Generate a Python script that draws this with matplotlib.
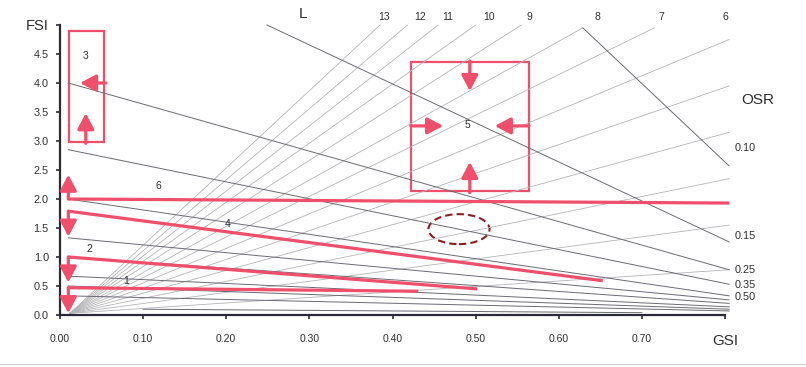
import matplotlib
matplotlib.use("Agg")
import matplotlib.pyplot as plt
from matplotlib.patches import Rectangle, Ellipse
from matplotlib.lines import Line2D

plt.rcParams["font.family"] = ["Liberation Sans", "DejaVu Sans"]

# axis ticks
gsi_ticks = [0.0, 0.1, 0.2, 0.3, 0.4, 0.5, 0.6, 0.7, 0.8]
gsi_tick_labels = ["0.00", "0.10", "0.20", "0.30", "0.40", "0.50", "0.60", "0.70", "GSI"]
fsi_ticks = [0.0, 0.5, 1.0, 1.5, 2.0, 2.5, 3.0, 3.5, 4.0, 4.5, 5.0]
fsi_tick_labels = ["0.0", "0.5", "1.0", "1.5", "2.0", "2.5", "3.0", "3.5", "4.0", "4.5", "FSI"]

# L lines (floors), from the origin to their end point
l_values = [13, 12, 11, 10, 9, 8, 7, 6, 5, 4, 3, 2, 1]
l_end_gsi = [0.385, 0.418, 0.455, 0.500, 0.555, 0.629, 0.715, 0.805, 0.805, 0.805, 0.805, 0.805, 0.805]
l_end_fsi = [5.0, 5.0, 5.0, 5.0, 5.0, 4.95, 4.95, 4.75, 3.95, 3.15, 2.35, 1.55, 0.78]
l_label_gsi = [0.390, 0.433, 0.467, 0.516, 0.565, 0.647, 0.723, 0.800]

# OSR lines
osr_labels = ["0.10", "0.15", "0.25", "0.35", "0.50", "", "", "", "", "", ""]
osr_g0 = [0.629, 0.249, 0.01, 0.01, 0.01, 0.01, 0.01, 0.01, 0.01, 0.01, 0.10]
osr_f0 = [4.95, 5.0, 4.0, 2.85, 2.0, 1.33, 1.0, 0.67, 0.5, 0.33, 0.10]
osr_g1 = [0.805, 0.805, 0.805, 0.805, 0.805, 0.805, 0.805, 0.805, 0.805, 0.805, 0.70]
osr_f1 = [2.57, 1.26, 0.78, 0.53, 0.33, 0.26, 0.20, 0.14, 0.10, 0.07, 0.04]
osr_label_fsi = [2.88, 1.36, 0.78, 0.52, 0.31]

# red lines with the arrow at their start
red_g0 = [0.01, 0.01, 0.01, 0.01]
red_f0 = [2.0, 1.79, 1.0, 0.47]
red_g1 = [0.805, 0.653, 0.502, 0.431]
red_f1 = [1.93, 0.59, 0.45, 0.41]
red_arrow_tip = [2.42, 1.35, 0.56, 0.03]

# red boxes
box_g0 = [0.011, 0.422]
box_g1 = [0.053, 0.564]
box_f0 = [2.98, 2.14]
box_f1 = [4.90, 4.36]

# numbered zones
zone_names = ["1", "2", "3", "4", "5", "6"]
zone_gsi = [0.080, 0.035, 0.031, 0.202, 0.490, 0.118]
zone_fsi = [0.59, 1.14, 4.47, 1.57, 3.28, 2.22]

red = "#F04F6B"
dark = "#2b2b35"
txt = "#2e2e2e"

fig = plt.figure(figsize=(8.06, 3.67), dpi=100)
ax = fig.add_axes([60 / 806, 52 / 367, 665 / 806, 290 / 367])
ax.set_xlim(0, 0.8)
ax.set_ylim(0, 5)

for i in range(len(l_values)):
    ax.plot([0.012, l_end_gsi[i]], [0.03, l_end_fsi[i]], color="#b4b4b8", lw=0.6, clip_on=False)
for i in range(8):
    ax.text(l_label_gsi[i], 5.14, str(l_values[i]), fontsize=7.5, color=txt,
            ha="center", va="center", clip_on=False)
ax.text(0.292, 5.19, "L", fontsize=11, color=txt, ha="center", va="center", clip_on=False)

for i in range(len(osr_g0)):
    ax.plot([osr_g0[i], osr_g1[i]], [osr_f0[i], osr_f1[i]], color="#6a6a72", lw=0.7, clip_on=False)
for i in range(5):
    ax.text(0.812, osr_label_fsi[i], osr_labels[i], fontsize=7.8, color=txt,
            ha="left", va="center", clip_on=False)
ax.text(0.82, 3.71, "OSR", fontsize=11, color=txt, ha="left", va="center", clip_on=False)

arrow_style = "-|>,head_width=0.5,head_length=0.95"

for i in range(len(red_g0)):
    ax.plot([red_g0[i], red_g1[i]], [red_f0[i], red_f1[i]], color=red, lw=2.3,
            solid_capstyle="butt", clip_on=False)
    ax.annotate("", xy=(red_g0[i], red_arrow_tip[i]), xytext=(red_g0[i], red_f0[i]),
                arrowprops=dict(arrowstyle=arrow_style, color=red, lw=2.3,
                                shrinkA=0, shrinkB=0, mutation_scale=10))

for i in range(2):
    ax.add_patch(Rectangle((box_g0[i], box_f0[i]), box_g1[i] - box_g0[i], box_f1[i] - box_f0[i],
                           fill=False, edgecolor=red, lw=1.6))

def red_arrow(tail, tip):
    ax.annotate("", xy=tip, xytext=tail,
                arrowprops=dict(arrowstyle=arrow_style, color=red, lw=2.3,
                                shrinkA=0, shrinkB=0, mutation_scale=10))

# arrows in box 3
red_arrow((0.055, 4.0), (0.024, 4.0))
red_arrow((0.031, 2.96), (0.031, 3.48))
# arrows in box 5
red_arrow((0.493, 4.38), (0.493, 3.86))
red_arrow((0.493, 2.11), (0.493, 2.64))
red_arrow((0.422, 3.26), (0.461, 3.26))
red_arrow((0.564, 3.26), (0.523, 3.26))

ax.add_patch(Ellipse((0.480, 1.48), 0.0735, 0.517, fill=False, edgecolor="#8e1b1f",
                     lw=1.5, ls=(0, (3.5, 2))))

for i in range(len(zone_names)):
    ax.text(zone_gsi[i], zone_fsi[i], zone_names[i], fontsize=7.5, color=txt,
            ha="center", va="center")

for s in ["top", "right"]:
    ax.spines[s].set_visible(False)
for s in ["left", "bottom"]:
    ax.spines[s].set_color(dark)
    ax.spines[s].set_linewidth(1.6)

ax.set_xticks(gsi_ticks)
ax.set_xticklabels(gsi_tick_labels)
ax.set_yticks(fsi_ticks)
ax.set_yticklabels(fsi_tick_labels)
ax.tick_params(axis="x", length=3, width=1.2, color=dark, pad=11, labelsize=7.5, labelcolor=txt)
ax.tick_params(axis="y", length=3, width=1.2, color=dark, pad=5, labelsize=7.8, labelcolor=txt)
ax.get_xticklabels()[-1].set_fontsize(11)
ax.get_yticklabels()[-1].set_fontsize(10.5)

fig.add_artist(Line2D([0, 1], [3 / 367, 3 / 367], color="#d8d8d8", lw=1))

plt.savefig("out.png", dpi=100)
